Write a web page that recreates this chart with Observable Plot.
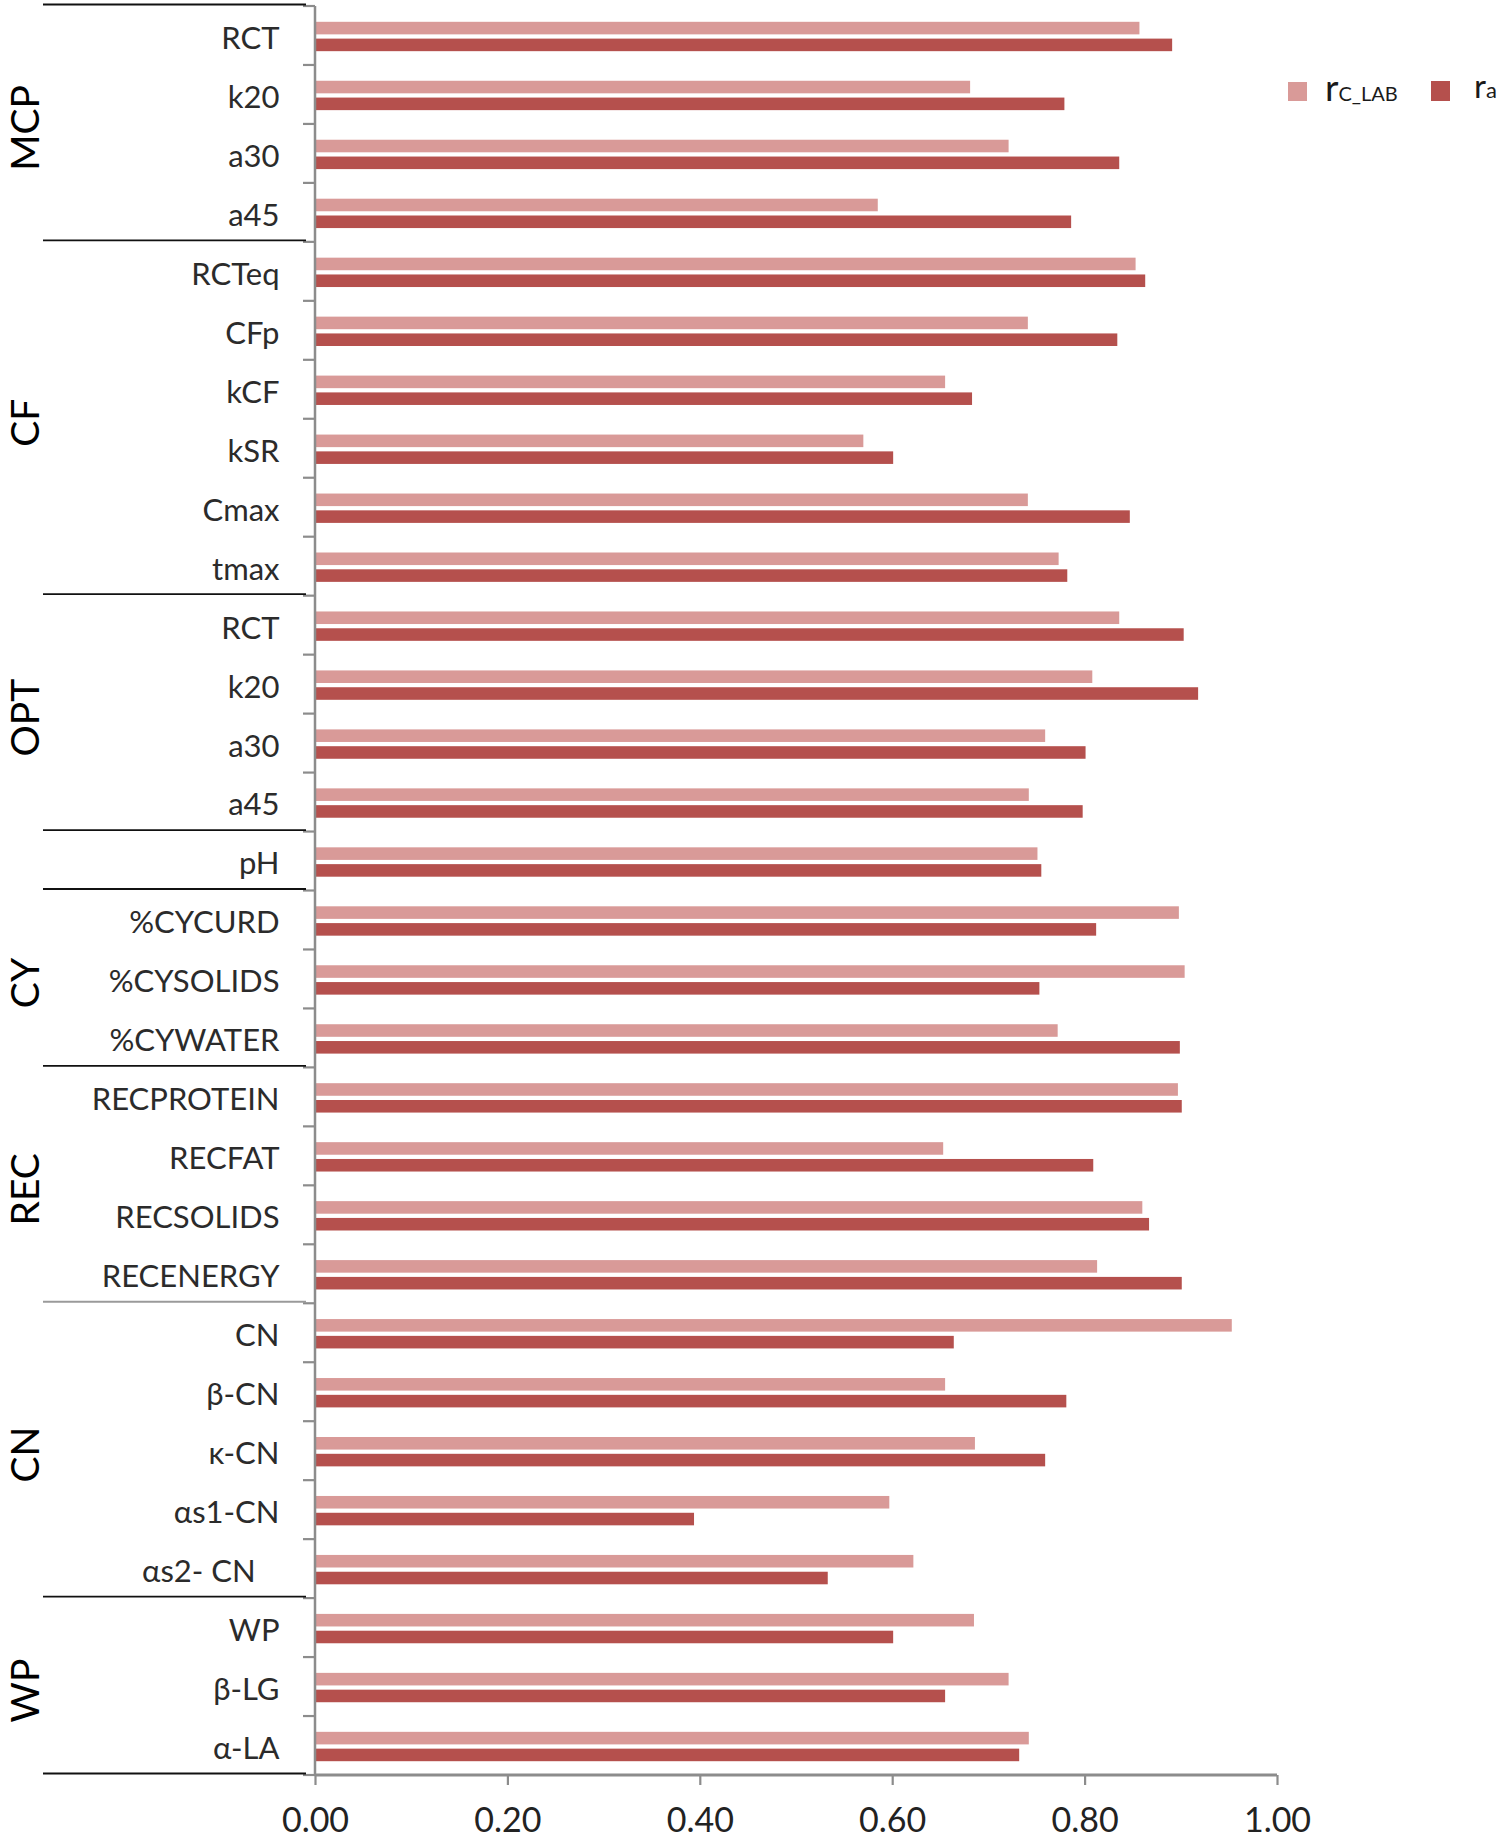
<!DOCTYPE html>
<html><head><meta charset="utf-8">
<script src="https://cdn.jsdelivr.net/npm/d3@7"></script>
<script src="https://cdn.jsdelivr.net/npm/@observablehq/plot@0.6"></script>
<style>
html,body{margin:0;padding:0;background:#fff;}
#wrap{position:relative;width:1503px;height:1839px;}
#legend{position:absolute;left:0;top:0;pointer-events:none;}
</style></head><body><div id="wrap"></div>
<script>
const labels = ["RCT","k20","a30","a45","RCTeq","CFp","kCF","kSR","Cmax","tmax","RCT","k20","a30","a45","pH","%CYCURD","%CYSOLIDS","%CYWATER","RECPROTEIN","RECFAT","RECSOLIDS","RECENERGY","CN","β-CN","κ-CN","αs1-CN","αs2- CN\u00a0\u00a0\u00a0","WP","β-LG","α-LA"];
const groups = ["MCP","MCP","MCP","MCP","CF","CF","CF","CF","CF","CF","OPT","OPT","OPT","OPT","","CY","CY","CY","REC","REC","REC","REC","CN","CN","CN","CN","CN","WP","WP","WP"];
const rcLab = [0.857,0.681,0.721,0.585, 0.853,0.741,0.655,0.570,0.741,0.773, 0.836,0.808,0.759,0.742, 0.751, 0.898,0.904,0.772, 0.897,0.653,0.860,0.813, 0.953,0.655,0.686,0.597,0.622, 0.685,0.721,0.742];
const ra = [0.891,0.779,0.836,0.786, 0.863,0.834,0.683,0.601,0.847,0.782, 0.903,0.918,0.801,0.798, 0.755, 0.812,0.753,0.899, 0.901,0.809,0.867,0.901, 0.664,0.781,0.759,0.394,0.533, 0.601,0.655,0.732];
const xTicks = [0, 0.2, 0.4, 0.6, 0.8, 1.0];
const seriesNames = ["r", "C_LAB", "r", "a"];
const colors = {light: "#d99a98", dark: "#b5504d"};

const rows = labels.map((l, i) => ({i, label: l, group: groups[i], rcLab: rcLab[i], ra: ra[i]}));
const AX = "#8c8c8c";

function decor(a, b, c, d) {
  let scales, dims;
  if (d && d.width) { scales = b; dims = d; } else { scales = a; dims = b; }
  const y = scales.y, x = scales.x;
  const n = labels.length;
  const bw = typeof y.bandwidth === "function" ? y.bandwidth()
    : (dims.height - dims.marginTop - dims.marginBottom) / n;
  const x0 = x(0);
  const top = dims.marginTop;
  const bottom = dims.height - dims.marginBottom;
  const g = d3.create("svg:g");
  // tick marks at band boundaries
  for (let k = 0; k <= n; k++) {
    const yy = k < n ? y(k) : y(n - 1) + bw;
    g.append("line").attr("x1", x0 - 12).attr("x2", x0).attr("y1", yy).attr("y2", yy)
      .attr("stroke", AX).attr("stroke-width", 2.2);
  }
  g.append("line").attr("x1", x0).attr("x2", x0).attr("y1", top).attr("y2", bottom)
    .attr("stroke", AX).attr("stroke-width", 2.5);
  g.append("line").attr("x1", x0).attr("x2", x(1)).attr("y1", bottom).attr("y2", bottom)
    .attr("stroke", AX).attr("stroke-width", 3);
  // group runs
  const runs = [];
  groups.forEach((gname, k) => {
    if (k === 0 || gname !== groups[k - 1]) runs.push({name: gname, start: k, end: k});
    else runs[runs.length - 1].end = k;
  });
  const lx1 = x0 - 272, lx2 = x0 - 9;
  runs.forEach(r => {
    const yTop = y(r.start) - 1.5;
    g.append("line").attr("x1", lx1).attr("x2", lx2).attr("y1", yTop).attr("y2", yTop)
      .attr("stroke", r.name === "CN" ? "#9a9a9a" : "#111").attr("stroke-width", 1.8);
    if (r.name) {
      const cy = (y(r.start) + y(r.end) + bw) / 2 + 4;
      g.append("text").attr("transform", `translate(${x0 - 276},${cy}) rotate(-90)`)
        .attr("text-anchor", "middle")
        .attr("font-family", "Lato, sans-serif").attr("font-size", 39).attr("fill", "#000")
        .text(r.name);
    }
  });
  const yb = bottom - 1.5;
  g.append("line").attr("x1", lx1).attr("x2", lx2).attr("y1", yb).attr("y2", yb)
    .attr("stroke", "#111").attr("stroke-width", 1.8);
  return g.node();
}

const chart = Plot.plot({
  width: 1503,
  height: 1839,
  marginTop: 6,
  marginBottom: 64,
  marginLeft: 315,
  marginRight: 226,
  style: {fontFamily: "Lato, sans-serif", background: "#fff"},
  x: {domain: [0, 1], label: null},
  y: {type: "band", domain: d3.range(labels.length), padding: 0, round: false, label: null},
  marks: [
    Plot.barX(rows, {y: "i", x: "rcLab", fill: colors.light, insetTop: 15.8, insetBottom: 30.6}),
    Plot.barX(rows, {y: "i", x: "ra", fill: colors.dark, insetTop: 32.6, insetBottom: 13.8}),
    Plot.axisY({tickSize: 0, tickPadding: 36, dy: 3, tickFormat: i => labels[i], fontSize: 31, fill: "#2b2b2b", label: null}),
    Plot.axisX({ticks: xTicks, tickFormat: d3.format(".2f"), tickSize: 10, tickPadding: 22,
      stroke: AX, strokeWidth: 2.2, fill: "#222", fontSize: 34, label: null}),
    decor
  ]
});
document.getElementById("wrap").appendChild(chart);

// legend overlay
const lg = d3.select("#wrap").append("svg").attr("id", "legend")
  .attr("width", 1503).attr("height", 140)
  .style("font-family", "Lato, sans-serif");
lg.append("rect").attr("x", 1288).attr("y", 82).attr("width", 19).attr("height", 19).attr("fill", colors.light);
const t1 = lg.append("text").attr("x", 1325).attr("y", 101).attr("fill", "#1a1a1a");
t1.append("tspan").attr("font-size", 37).text(seriesNames[0]);
t1.append("tspan").attr("font-size", 20).text(seriesNames[1]);
lg.append("rect").attr("x", 1431).attr("y", 81).attr("width", 19).attr("height", 20).attr("fill", colors.dark);
const t2 = lg.append("text").attr("x", 1474).attr("y", 98).attr("fill", "#1a1a1a");
t2.append("tspan").attr("font-size", 33).text(seriesNames[2]);
t2.append("tspan").attr("font-size", 22).text(seriesNames[3]);
</script>
</body></html>
